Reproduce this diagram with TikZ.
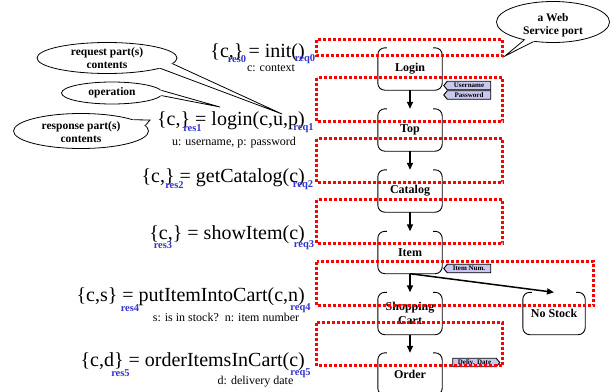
\documentclass[tikz,border=0pt]{standalone}
\usepackage{fontspec}
\setmainfont{Liberation Serif}
\usetikzlibrary{arrows.meta,shapes.geometric,shapes.symbols,calc}

\definecolor{partblue}{RGB}{51,51,204}
\definecolor{tagfill}{RGB}{200,200,240}

% page outline: rounded box whose top edge is open in the middle
\newcommand\drawpageframe[1]{%
  \draw[pageframe] ([xshift=9pt]#1.north west) -- (#1.north west) -- (#1.south west)
    -- (#1.south east) -- (#1.north east) -- ([xshift=-9pt]#1.north east);}

% callout tail from two border anchors of an ellipse to a tip
\newcommand\callouttail[4]{%
  \fill[white] (#1.#2) -- (#4) -- (#1.#3) -- ($(#1.#3)!0.25!(#1.center)$) -- ($(#1.#2)!0.25!(#1.center)$) -- cycle;
  \draw[line width=0.8pt] (#1.#2) -- (#4) -- (#1.#3);}

\begin{document}
\begin{tikzpicture}[x=1pt,y=-1pt,
  formula/.style={font=\fontsize{20}{22}\selectfont, anchor=base east, inner sep=0pt},
  partlbl/.style={font=\fontsize{10.5}{12}\selectfont\bfseries, text=partblue, inner sep=0pt},
  note/.style={font=\fontsize{12}{14}\selectfont, inner sep=0pt},
  calloutshape/.style={ellipse, draw, fill=white, line width=0.8pt, inner sep=0pt},
  callouttext/.style={font=\fontsize{11.5}{13.5}\selectfont\bfseries, align=center, inner sep=0pt},
  pagenode/.style={minimum width=64pt, minimum height=42pt, inner sep=0pt,
    font=\fontsize{12}{13.5}\selectfont\bfseries, align=center},
  pageframe/.style={draw, line width=0.9pt, rounded corners=7pt},
  flow/.style={line width=1.5pt, -{Triangle[length=7pt,width=6pt]}},
  portbox/.style={draw=red, line width=3pt, dash pattern=on 3pt off 2pt},
  tag/.style={signal, draw, fill=tagfill, line width=0.9pt, minimum height=8.5pt,
    minimum width=47pt, inner sep=0.5pt, font=\fontsize{7}{8}\selectfont\bfseries,
    signal pointer angle=100},
]
\useasboundingbox (0,0) rectangle (612,391);

% ---- operations -------------------------------------------------------
\node[formula] (op0) at (305,57)  {\{c,\} = init()};
\node[formula] (op1) at (305,125) {\{c,\} = login(c,u,p)};
\node[formula] (op2) at (305,182) {\{c,\} = getCatalog(c)};
\node[formula] (op3) at (305,239) {\{c,\} = showItem(c)};
\node[formula] (op4) at (305,301) {\{c,s\} = putItemIntoCart(c,n)};
\node[formula] (op5) at (305,366) {\{c,d\} = orderItemsInCart(c)};

\node[partlbl] (res0) at (237,59)   {res0};
\node[partlbl] (req0) at (305,59)   {req0};
\node[partlbl] (res1) at (192.5,128) {res1};
\node[partlbl] (req1) at (303.5,128) {req1};
\node[partlbl] (res2) at (174.5,185) {res2};
\node[partlbl] (req2) at (303,185)  {req2};
\node[partlbl] (res3) at (163,245)  {res3};
\node[partlbl] (req3) at (304,245)  {req3};
\node[partlbl] (res4) at (130,308)  {res4};
\node[partlbl] (req4) at (300.5,308) {req4};
\node[partlbl] (res5) at (120.5,373) {res5};
\node[partlbl] (req5) at (300.5,373) {req5};

\node[note] (n0) at (271,68)    {c: context};
\node[note] (n1) at (234,143)   {u: username, p: password};
\node[note] (n4) at (226,317)   {s: is in stock?\ \ n: item number};
\node[note] (n5) at (255.5,382) {d: delivery date};

% ---- callouts ---------------------------------------------------------
\node[calloutshape, minimum width=140pt, minimum height=31pt] (reqE) at (107,58) {};
\coordinate (reqTip) at (282,114);
\callouttail{reqE}{-11}{-5}{reqTip}
\node[callouttext] (reqT) at (107,58) {request part(s)\\contents};

\node[calloutshape, minimum width=101pt, minimum height=22pt] (opE) at (112,93) {};
\coordinate (opTip) at (220,107);
\callouttail{opE}{3}{-3}{opTip}
\node[callouttext] (opT) at (112,93) {operation};

\node[calloutshape, minimum width=135pt, minimum height=35pt] (resE) at (81,131) {};
\coordinate (resTip) at (150,120);
\callouttail{resE}{12}{5}{resTip}
\node[callouttext] (resT) at (81,132) {response part(s)\\contents};

\node[calloutshape, minimum width=113pt, minimum height=41pt] (portE) at (553,22) {};
\coordinate (portTip) at (505,56);
\callouttail{portE}{-148}{-135}{portTip}
\node[callouttext] (portT) at (553,25) {a Web\\Service port};

% ---- pages ------------------------------------------------------------
\node[pagenode] (login)   at (410,69)    {Login};
\node[pagenode] (top)     at (410,130)   {Top};
\node[pagenode] (catalog) at (410,191)   {Catalog};
\node[pagenode] (item)    at (410,252.5) {Item};
\node[pagenode] (cart)    at (410,313.5) {Shopping\\Cart};
\node[pagenode, minimum width=62pt] (nostock) at (554,313.5) {No Stock};
\node[pagenode] (order)   at (410,374)   {Order};
\foreach \p in {login,top,catalog,item,cart,nostock,order} {\drawpageframe{\p}}

\draw[flow] (login) -- (top);
\draw[flow] (top) -- (catalog);
\draw[flow] (catalog) -- (item);
\draw[flow] (item) -- (cart);
\draw[flow] (cart) -- (order);
\draw[flow] (item.south) -- (nostock.north);

% ---- message parts ----------------------------------------------------
\node[tag, signal to=west] (tUser) at (469,85.5)  {Username};
\node[tag, signal to=west] (tPass) at (469,95)    {Password};
\node[tag, signal to=west] (tItem) at (469,268.5) {Item Num.};
\node[tag, signal to=east] (tDate) at (474.5,362.5) {Deliv. Date};

% ---- port regions -----------------------------------------------------
\draw[portbox] (316.5,39.5)  rectangle (502.5,55.5)  coordinate (p0);
\draw[portbox] (316.5,77.5)  rectangle (502.5,121.5);
\draw[portbox] (316.5,138.5) rectangle (502.5,182.5);
\draw[portbox] (316.5,199.5) rectangle (502.5,243.5);
\draw[portbox] (316.5,261.5) rectangle (593.5,305.5);
\draw[portbox] (316.5,322.5) rectangle (502.5,365.5);
\end{tikzpicture}
\end{document}
